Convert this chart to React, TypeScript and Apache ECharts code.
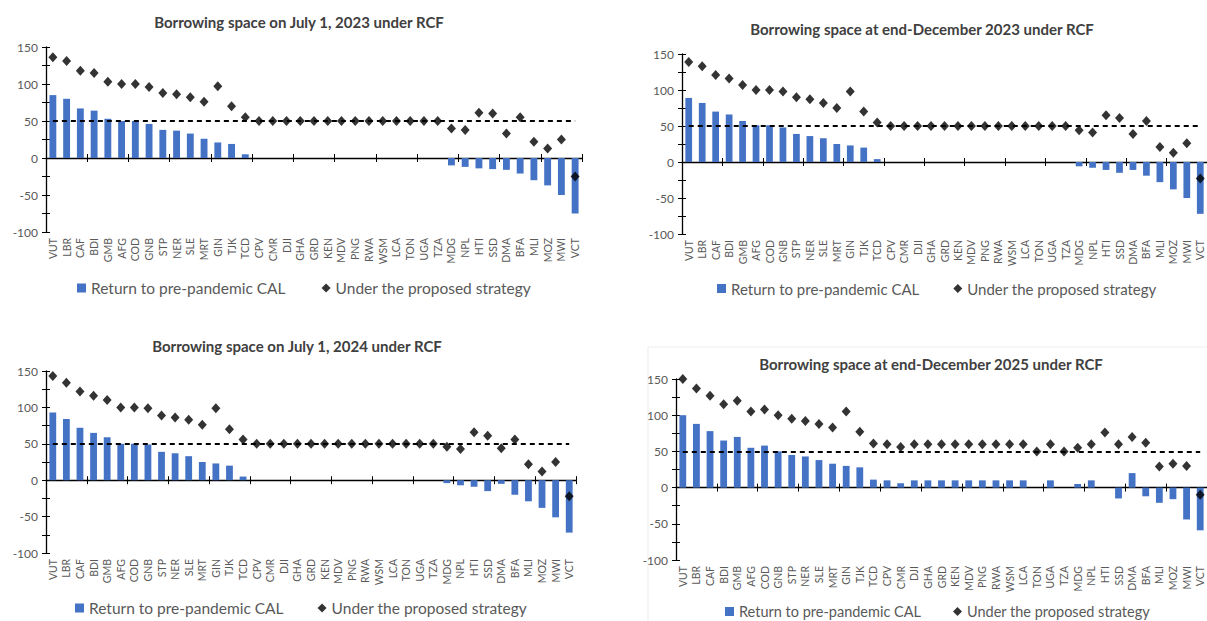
import React, { useEffect, useRef } from "react";
import * as echarts from "echarts";

// Country codes along the horizontal axis (same order in every panel)
const countries = [
  "VUT", "LBR", "CAF", "BDI", "GMB", "AFG", "COD", "GNB", "STP", "NER",
  "SLE", "MRT", "GIN", "TJK", "TCD", "CPV", "CMR", "DJI", "GHA", "GRD",
  "KEN", "MDV", "PNG", "RWA", "WSM", "LCA", "TON", "UGA", "TZA", "MDG",
  "NPL", "HTI", "SSD", "DMA", "BFA", "MLI", "MOZ", "MWI", "VCT",
];

const panelTitles = [
  "Borrowing space on July 1, 2023 under RCF",
  "Borrowing space at end-December 2023 under RCF",
  "Borrowing space on July 1, 2024 under RCF",
  "Borrowing space at end-December 2025 under RCF",
];

const calName = "Return to pre-pandemic CAL";
const strategyName = "Under the proposed strategy";
const rcfLimit = 50;
const yTicks = { min: -100, max: 150, step: 25, labelStep: 50 };

// July 1, 2023
const calJul2023 = [85, 80, 67, 64, 53, 50, 50, 46, 38, 37, 33, 26, 21, 19, 5, 0, 0, 0, 0, 0, 0, 0, 0, 0, 0, 0, 0, 0, 0, -10, -12, -14, -15, -16, -21, -30, -37, -50, -75];
const strategyJul2023 = [136, 131, 118, 115, 103, 100, 100, 96, 88, 86, 82, 76, 97, 70, 55, 50, 50, 50, 50, 50, 50, 50, 50, 50, 50, 50, 50, 50, 50, 40, 38, 61, 60, 33, 55, 22, 13, 25, -25];

// End-December 2023
const calDec2023 = [89, 82, 70, 66, 57, 51, 51, 48, 39, 36, 33, 25, 23, 20, 4, 0, 0, 0, 0, 0, 0, 0, 0, 0, 0, 0, 0, 0, 0, -6, -8, -11, -15, -11, -19, -28, -38, -50, -72];
const strategyDec2023 = [139, 133, 121, 116, 107, 100, 100, 98, 90, 87, 82, 75, 98, 70, 55, 50, 50, 50, 50, 50, 50, 50, 50, 50, 50, 50, 50, 50, 50, 44, 41, 65, 61, 39, 57, 21, 13, 26, -23];

// July 1, 2024
const calJul2024 = [93, 84, 72, 65, 59, 50, 50, 49, 39, 37, 33, 25, 23, 20, 5, 0, 0, 0, 0, 0, 0, 0, 0, 0, 0, 0, 0, 0, 0, -4, -7, -9, -15, -5, -20, -29, -38, -51, -72];
const strategyJul2024 = [143, 134, 122, 116, 110, 100, 100, 99, 89, 86, 83, 76, 99, 70, 56, 50, 50, 50, 50, 50, 50, 50, 50, 50, 50, 50, 50, 50, 50, 46, 43, 66, 61, 44, 56, 22, 12, 25, -22];

// End-December 2025
const calDec2025 = [100, 88, 78, 65, 70, 55, 58, 50, 45, 43, 38, 33, 30, 28, 11, 10, 6, 10, 10, 10, 10, 10, 10, 10, 10, 10, 0, 10, 0, 5, 10, 0, -15, 20, -12, -21, -16, -44, -59];
const strategyDec2025 = [150, 137, 127, 115, 120, 105, 108, 100, 95, 92, 88, 83, 105, 77, 61, 60, 56, 60, 60, 60, 60, 60, 60, 60, 60, 60, 50, 60, 50, 55, 60, 76, 60, 70, 62, 29, 33, 30, -10];

const calSeries = [calJul2023, calDec2023, calJul2024, calDec2025];
const strategySeries = [strategyJul2023, strategyDec2023, strategyJul2024, strategyDec2025];

// Panel placement on the page
const panels = [
  { grid: { left: 46, top: 47, width: 536, height: 185 }, title: { x: 299, y: 22 }, legend: { left: 77, top: 280, font: 15.5, gap: 36 } },
  { grid: { left: 682, top: 54, width: 527, height: 180 }, title: { x: 922, y: 29 }, legend: { left: 717, top: 281, font: 15, gap: 34 } },
  { grid: { left: 46, top: 371, width: 530, height: 182 }, title: { x: 297, y: 346 }, legend: { left: 75, top: 600, font: 15.5, gap: 34 } },
  { grid: { left: 676, top: 379, width: 536, height: 181 }, title: { x: 931, y: 364 }, legend: { left: 725, top: 604, font: 14.5, gap: 32 } },
];

const FONT = 'Lato, "Liberation Sans", sans-serif';
const BLUE = "#4472C4";
const GREY = "#595959";

function buildOption() {
  const grid: any[] = [];
  const xAxis: any[] = [];
  const yAxis: any[] = [];
  const series: any[] = [];
  const legend: any[] = [];
  const graphic: any[] = [];

  // faint frame around the last panel
  graphic.push({
    type: "rect",
    shape: { x: 648, y: 347, width: 600, height: 300 },
    style: { fill: "none", stroke: "#ededed", lineWidth: 1 },
    silent: true,
  });

  panels.forEach((p, i) => {
    grid.push({ ...p.grid, containLabel: false });

    const valueAxisBase = {
      type: "value",
      gridIndex: i,
      min: yTicks.min,
      max: yTicks.max,
      interval: yTicks.step,
      splitLine: { show: false },
    };
    // main value axis: line, outward ticks and labels
    yAxis.push({
      ...valueAxisBase,
      position: "left",
      axisLine: { show: true, lineStyle: { color: "#000", width: 1.3 } },
      axisTick: { show: true, length: 4, lineStyle: { color: "#000", width: 1 } },
      axisLabel: {
        color: GREY,
        fontFamily: FONT,
        fontSize: 12,
        margin: 8,
        formatter: (v: number) => (v % yTicks.labelStep === 0 ? String(v) : ""),
      },
    });
    // companion axis for the inward half of the crossing ticks
    yAxis.push({
      ...valueAxisBase,
      position: "left",
      axisLine: { show: false },
      axisTick: { show: true, inside: true, length: 4, lineStyle: { color: "#000", width: 1 } },
      axisLabel: { show: false },
    });

    const catBase = { type: "category", gridIndex: i, data: countries, boundaryGap: true };
    // zero line with downward ticks
    xAxis.push({
      ...catBase,
      position: "bottom",
      axisLine: { show: true, onZero: true, onZeroAxisIndex: 2 * i, lineStyle: { color: "#000", width: 1.3 } },
      axisTick: { show: true, length: 4, lineStyle: { color: "#000", width: 1 } },
      axisLabel: { show: false },
    });
    // upward ticks on the zero line
    xAxis.push({
      ...catBase,
      position: "bottom",
      axisLine: { show: false, onZero: true, onZeroAxisIndex: 2 * i },
      axisTick: { show: true, inside: true, length: 4, lineStyle: { color: "#000", width: 1 } },
      axisLabel: { show: false },
    });
    // country labels along the bottom of the plot
    xAxis.push({
      ...catBase,
      position: "bottom",
      axisLine: { show: false, onZero: false },
      axisTick: { show: false },
      axisLabel: {
        show: true,
        interval: 0,
        rotate: 90,
        color: GREY,
        fontFamily: FONT,
        fontSize: 10.5,
        margin: 6,
      },
    });

    series.push({
      name: calName,
      type: "bar",
      xAxisIndex: 3 * i,
      yAxisIndex: 2 * i,
      data: calSeries[i],
      barWidth: "50%",
      itemStyle: { color: BLUE },
      markLine: {
        silent: true,
        symbol: "none",
        label: { show: false },
        lineStyle: { color: "#000", type: [5, 4], width: 1.8 },
        data: [[
          { xAxis: countries[0], yAxis: rcfLimit },
          { xAxis: countries[countries.length - 1], yAxis: rcfLimit },
        ]],
        z: 3,
      },
    });
    series.push({
      name: strategyName,
      type: "scatter",
      xAxisIndex: 3 * i,
      yAxisIndex: 2 * i,
      data: strategySeries[i],
      symbol: "diamond",
      symbolSize: [9, 10],
      itemStyle: { color: "#000" },
      z: 5,
    });

    legend.push({
      left: p.legend.left,
      top: p.legend.top,
      padding: 0,
      orient: "horizontal",
      selectedMode: false,
      itemWidth: 9,
      itemHeight: 9,
      itemGap: p.legend.gap,
      textStyle: { color: GREY, fontFamily: FONT, fontSize: p.legend.font },
      data: [
        { name: calName, icon: "rect" },
        { name: strategyName, icon: "diamond" },
      ],
    });

    graphic.push({
      type: "text",
      x: p.title.x,
      y: p.title.y,
      style: {
        text: panelTitles[i],
        fill: "#404040",
        font: `bold 15px ${FONT}`,
        textAlign: "center",
        textVerticalAlign: "middle",
      },
    });
  });

  return {
    animation: false,
    backgroundColor: "#ffffff",
    grid,
    xAxis,
    yAxis,
    series,
    legend,
    graphic,
  };
}

export default function App() {
  const ref = useRef<HTMLDivElement>(null);

  useEffect(() => {
    if (!ref.current) return;
    const chart = echarts.init(ref.current, undefined, { renderer: "svg" });
    chart.setOption(buildOption() as any);
    return () => chart.dispose();
  }, []);

  return (
    <div
      ref={ref}
      style={{ position: "fixed", left: 0, top: 0, width: 1207, height: 621, background: "#fff" }}
    />
  );
}
